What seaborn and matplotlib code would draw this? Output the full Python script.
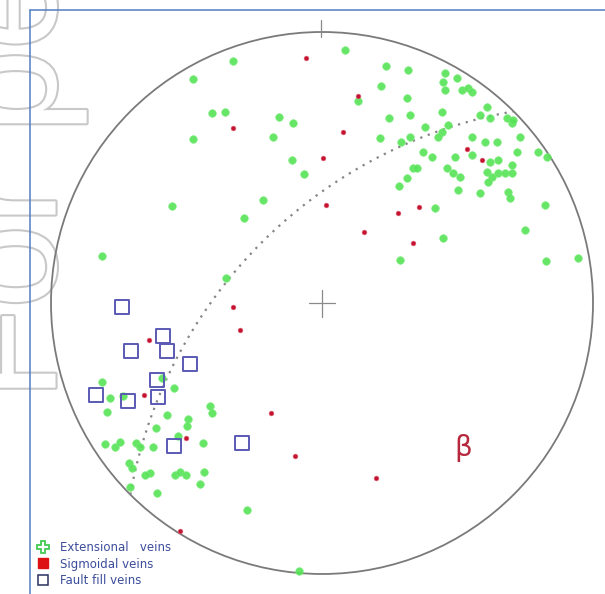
import numpy as np
import matplotlib
matplotlib.use('Agg')
import matplotlib.pyplot as plt
import matplotlib.patheffects as pe
from matplotlib.lines import Line2D
import seaborn as sns

ext_x = [233, 193, 212, 225, 193, 172, 102, 226,
         345, 386, 408, 358, 381, 407, 279, 293, 273, 389, 410, 380, 401, 292, 304, 413, 399, 407, 263, 244, 400,
         445, 443, 445, 457, 462, 468, 472, 442, 487, 480, 490, 507, 512, 513,
         425, 442, 448, 438, 472, 485, 497, 520, 517, 538, 547, 410, 423, 432, 417, 455, 472, 447, 453, 460,
         490, 498, 487, 492, 498, 505, 512, 512, 488, 458, 480, 508, 510, 545, 435, 525, 443, 546, 578,
         102, 162, 110, 123, 174, 107, 210, 212, 167, 188, 156, 187, 178, 105, 115, 120, 136, 140, 153, 203,
         129, 132, 150, 145, 175, 180, 186, 204, 200, 130, 157, 247, 299]
ext_y = [61, 79, 113, 112, 139, 206, 256, 278,
         50, 66, 70, 101, 86, 98, 117, 123, 137, 118, 115, 138, 142, 160, 174, 168, 186, 178, 200, 218, 260,
         73, 82, 90, 78, 90, 88, 92, 112, 107, 115, 118, 118, 123, 120,
         127, 132, 125, 137, 137, 142, 142, 137, 152, 152, 157, 137, 152, 157, 168, 157, 155, 168, 173, 177,
         162, 160, 172, 177, 173, 173, 165, 173, 182, 190, 193, 192, 198, 205, 208, 230, 238, 261, 258,
         382, 378, 398, 396, 388, 412, 406, 413, 415, 419, 428, 426, 436, 444, 447, 442, 443, 447, 447, 443,
         463, 468, 473, 475, 475, 472, 475, 472, 484, 487, 493, 510, 571]

sig_x = [306, 358, 233, 343, 323, 326, 398, 364, 413, 467, 482, 419,
         233, 240, 149, 144, 186, 271, 295, 376, 180]
sig_y = [58, 96, 128, 132, 158, 205, 213, 232, 243, 149, 160, 207,
         307, 330, 340, 395, 438, 413, 456, 478, 531]

fault_x = [122, 163, 131, 167, 190, 157, 96, 128, 158, 174, 242]
fault_y = [307, 336, 351, 351, 364, 380, 395, 401, 397, 446, 443]

labels = ['Extensional   veins', 'Sigmoidal veins', 'Fault fill veins']

# net geometry and the beta great circle (dip direction / dip)
net_cx, net_cy, net_r = 322, 303, 271
beta_dipdir, beta_dip = 315, 55

sns.set_style('white')
plt.rcParams['font.family'] = ['DejaVu Sans']

fig = plt.figure(figsize=(6.05, 5.94), dpi=100)
ax = fig.add_axes([0, 0, 1, 1])
ax.set_xlim(0, 605)
ax.set_ylim(594, 0)
ax.axis('off')

# faint outlined watermark on the left
ax.text(55.5, 400, 'For peer review', rotation=90, rotation_mode='anchor',
        ha='left', va='baseline', fontsize=108, family='Liberation Sans',
        color='white', zorder=0,
        path_effects=[pe.withStroke(linewidth=3, foreground='#c8c8c8')])

# frame lines
ax.plot([30, 30], [10, 594], color='#4f7fc4', lw=1.1, zorder=1)
ax.plot([30, 605], [10, 10], color='#4f7fc4', lw=1.1, zorder=1)

# primitive circle, centre cross and north tick
ax.add_patch(plt.Circle((net_cx, net_cy), net_r, fill=False, ec='#7a7a7a', lw=1.3, zorder=2))
ax.plot([net_cx - 13, net_cx + 13], [net_cy, net_cy], color='#8a8a8a', lw=0.9, zorder=2)
ax.plot([net_cx, net_cx], [net_cy - 13, net_cy + 14], color='#8a8a8a', lw=0.9, zorder=2)
ax.plot([net_cx - 1, net_cx - 1], [net_cy - net_r - 12, net_cy - net_r + 5], color='#8a8a8a', lw=0.9, zorder=2)

# great circle, stereographic projection
t = np.linspace(0, np.pi, 181)
dd = np.radians(beta_dipdir)
dip = np.radians(beta_dip)
s_vec = np.array([np.sin(dd - np.pi / 2), np.cos(dd - np.pi / 2), 0.0])
d_vec = np.array([np.cos(dip) * np.sin(dd), np.cos(dip) * np.cos(dd), np.sin(dip)])
v = np.outer(np.cos(t), s_vec) + np.outer(np.sin(t), d_vec)
plunge = np.arcsin(np.clip(v[:, 2], -1, 1))
trend = np.arctan2(v[:, 0], v[:, 1])
rr = net_r * np.tan((np.pi / 2 - plunge) / 2)
gx = net_cx + rr * np.sin(trend)
gy = net_cy - rr * np.cos(trend)
sns.lineplot(x=gx, y=gy, sort=False, estimator=None, ax=ax, color='#858585',
             lw=1.6, linestyle=(0, (1, 2.6)), zorder=3)

# poles
sns.scatterplot(x=ext_x, y=ext_y, ax=ax, marker='o', s=30, color='#55e355',
                edgecolor='#7cec7c', linewidth=0.5, alpha=0.9, zorder=4, legend=False)
sns.scatterplot(x=sig_x, y=sig_y, ax=ax, marker='o', s=12, color='#c41230',
                edgecolor='#e07080', linewidth=0.4, zorder=5, legend=False)
sns.scatterplot(x=fault_x, y=fault_y, ax=ax, marker='s', s=90, facecolor='none',
                edgecolor='#5a5ab4', linewidth=1.4, zorder=6, legend=False)

ax.text(463, 448, '\u03b2', color='#b8283c', fontsize=20, ha='center', va='center')

handles = [
    Line2D([], [], ls='none', marker='P', ms=9, mfc='white', mec='#44cc55', mew=1.3),
    Line2D([], [], ls='none', marker='s', ms=7.5, mfc='#dd1111', mec='#dd1111'),
    Line2D([], [], ls='none', marker='s', ms=7.5, mfc='white', mec='#2a3060', mew=1.1),
]
ax.legend(handles, labels, loc='lower left', bbox_to_anchor=(0.062, 0.012),
          bbox_transform=fig.transFigure, frameon=False, fontsize=8.5,
          labelcolor='#3c4c9c', handlelength=1.0, handletextpad=0.9,
          labelspacing=0.28, borderpad=0, borderaxespad=0)

fig.savefig('out.png', dpi=100)
